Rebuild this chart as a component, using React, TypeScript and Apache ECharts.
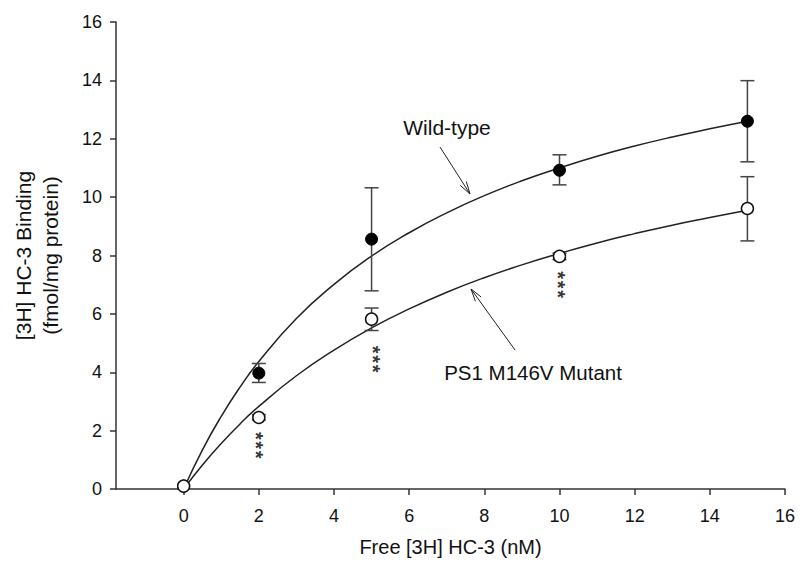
import React, { useEffect, useRef } from "react";
import * as echarts from "echarts";

// ---- Data ----
const xTicks = [0, 2, 4, 6, 8, 10, 12, 14, 16];
const yTicks = [0, 2, 4, 6, 8, 10, 12, 14, 16];

// measured points [x, mean]
const wildTypePoints: [number, number][] = [
  [0, 0.1], [2, 3.97], [5, 8.56], [10, 10.92], [15, 12.6],
];
const mutantPoints: [number, number][] = [
  [0, 0.1], [2, 2.45], [5, 5.82], [10, 7.97], [15, 9.61],
];
// error bars [x, low, high]
const wildTypeErrors: [number, number, number][] = [
  [2, 3.65, 4.3], [5, 6.79, 10.32], [10, 10.42, 11.45], [15, 11.21, 13.99],
];
const mutantErrors: [number, number, number][] = [
  [2, 2.37, 2.55], [5, 5.43, 6.2], [10, 7.86, 8.08], [15, 8.5, 10.7],
];
// fitted curves
const curveX = [0, 0.5, 1, 1.5, 2, 3, 4, 5, 6, 7, 8, 9, 10, 11, 12, 13, 14, 15];
const wildTypeCurve = [0, 1.34, 2.49, 3.49, 4.37, 5.84, 7.01, 7.98, 8.78, 9.46, 10.05, 10.56, 11.0, 11.4, 11.75, 12.06, 12.34, 12.6];
const mutantCurve = [0, 0.82, 1.56, 2.23, 2.83, 3.88, 4.76, 5.52, 6.17, 6.74, 7.24, 7.68, 8.07, 8.43, 8.75, 9.04, 9.3, 9.55];
// significance markers [x, y]
const starMarks: [number, number][] = [[1.92, 1.5], [5.03, 4.45], [9.96, 7.0]];

const FONT = "'Liberation Sans', Arial, sans-serif";
const TXT = "#111";
const AX = "#333";

function arrow(x1: number, y1: number, x2: number, y2: number) {
  const dx = x2 - x1, dy = y2 - y1;
  const len = Math.sqrt(dx * dx + dy * dy);
  const ux = dx / len, uy = dy / len;
  const L = 13, th = 0.28;
  const rot = (a: number) => [
    x2 - L * (ux * Math.cos(a) - uy * Math.sin(a)),
    y2 - L * (ux * Math.sin(a) + uy * Math.cos(a)),
  ];
  const s = { stroke: "#222", lineWidth: 1, fill: "none" };
  return [
    { type: "line", shape: { x1, y1, x2, y2 }, style: s },
    { type: "polyline", shape: { points: [rot(th), [x2, y2], rot(-th)] }, style: s },
  ];
}

export default function App() {
  const ref = useRef<HTMLDivElement>(null);
  useEffect(() => {
    if (!ref.current) return;
    const chart = echarts.init(ref.current, null, { renderer: "svg" });
    const errRender = (params: any, api: any) => {
      const x = api.value(0), lo = api.value(1), hi = api.value(2);
      const p1 = api.coord([x, hi]);
      const p2 = api.coord([x, lo]);
      const w = 7;
      const st = { stroke: "#444", lineWidth: 1.5 };
      return {
        type: "group",
        children: [
          { type: "line", shape: { x1: p1[0], y1: p1[1], x2: p2[0], y2: p2[1] }, style: st },
          { type: "line", shape: { x1: p1[0] - w, y1: p1[1], x2: p1[0] + w, y2: p1[1] }, style: st },
          { type: "line", shape: { x1: p2[0] - w, y1: p2[1], x2: p2[0] + w, y2: p2[1] }, style: st },
        ],
      };
    };
    chart.setOption({
      animation: false,
      backgroundColor: "#fff",
      grid: { left: 116, right: 15, top: 22, bottom: 95 },
      xAxis: {
        type: "value",
        min: -1.8,
        max: 16,
        name: "Free [3H] HC-3 (nM)",
        nameLocation: "middle",
        nameGap: 48,
        nameTextStyle: { fontFamily: FONT, fontSize: 20, color: TXT },
        axisLine: { show: true, onZero: false, lineStyle: { color: AX, width: 1.5 } },
        axisTick: { show: true, length: 6, customValues: xTicks, lineStyle: { color: AX, width: 1.5 } },
        axisLabel: { customValues: xTicks, fontFamily: FONT, fontSize: 18, color: TXT, margin: 18 },
        splitLine: { show: false },
      },
      yAxis: {
        type: "value",
        min: 0,
        max: 16,
        interval: 2,
        name: "[3H] HC-3 Binding\n(fmol/mg protein)",
        nameLocation: "middle",
        nameRotate: 90,
        nameGap: 52,
        nameTextStyle: { fontFamily: FONT, fontSize: 21, color: TXT, lineHeight: 27 },
        axisLine: { show: true, onZero: false, lineStyle: { color: AX, width: 1.5 } },
        axisTick: { show: true, length: 6, lineStyle: { color: AX, width: 1.5 } },
        axisLabel: { fontFamily: FONT, fontSize: 18, color: TXT, margin: 14 },
        splitLine: { show: false },
      },
      series: [
        {
          type: "line", smooth: true, symbol: "none", z: 2,
          data: curveX.map((x, i) => [x, wildTypeCurve[i]]),
          lineStyle: { color: "#222", width: 1.5 },
        },
        {
          type: "line", smooth: true, symbol: "none", z: 2,
          data: curveX.map((x, i) => [x, mutantCurve[i]]),
          lineStyle: { color: "#222", width: 1.5 },
        },
        { type: "custom", renderItem: errRender, data: wildTypeErrors, encode: { x: 0, y: [1, 2] }, z: 3 },
        { type: "custom", renderItem: errRender, data: mutantErrors, encode: { x: 0, y: [1, 2] }, z: 3 },
        {
          type: "scatter", data: wildTypePoints, symbol: "circle", symbolSize: 12, z: 4,
          itemStyle: { color: "#000", borderColor: "#000", borderWidth: 1, opacity: 1 },
        },
        {
          type: "scatter", data: mutantPoints, symbol: "circle", symbolSize: 12, z: 5,
          itemStyle: { color: "#fff", borderColor: "#111", borderWidth: 1.5, opacity: 1 },
        },
        {
          type: "scatter", data: starMarks, symbolSize: 0, z: 6, silent: true,
          label: {
            show: true, position: "inside", formatter: "*\u200A*\u200A*", rotate: -90,
            fontFamily: FONT, fontSize: 20, fontWeight: "bold", color: "#000",
          },
        },
      ],
      graphic: [
        {
          type: "text", x: 447, y: 127,
          style: { text: "Wild-type", fontFamily: FONT, fontSize: 21, fill: TXT, align: "center", verticalAlign: "middle" },
        },
        {
          type: "text", x: 533, y: 372,
          style: { text: "PS1 M146V Mutant", fontFamily: FONT, fontSize: 20.5, fill: TXT, align: "center", verticalAlign: "middle" },
        },
        ...arrow(440, 147, 470, 194),
        ...arrow(515, 350, 471, 289),
      ],
    });
    return () => chart.dispose();
  }, []);
  return <div ref={ref} style={{ position: "absolute", left: 0, top: 0, width: 800, height: 584 }} />;
}
